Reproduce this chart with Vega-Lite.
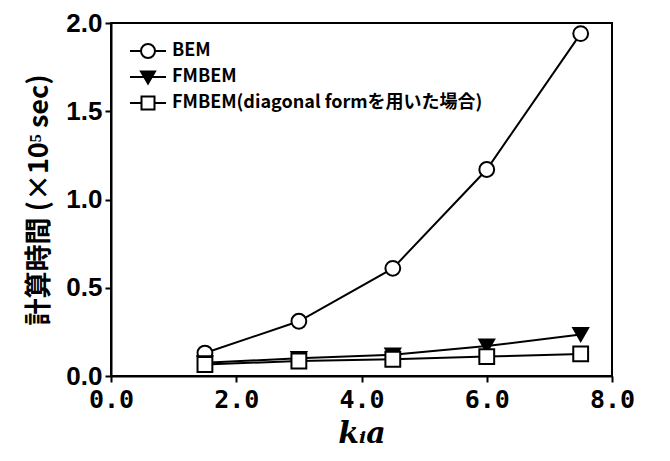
{
  "$schema": "https://vega.github.io/schema/vega-lite/v6.json",
  "width": 501,
  "height": 353,
  "autosize": {"type": "none"},
  "padding": {"left": 111, "top": 23, "right": 58, "bottom": 85},
  "background": "white",
  "config": {
    "view": {"stroke": "black", "strokeWidth": 2},
    "axis": {
      "domainColor": "black", "domainWidth": 2, "tickColor": "black", "tickWidth": 2,
      "tickSize": 6, "grid": false, "labelFont": "Liberation Sans", "labelFontWeight": "bold",
      "labelFontSize": 26, "labelColor": "black", "titleColor": "black", "labelFlush": false
    }
  },
  "data": {"values": [
    {"series": "BEM", "ka": 1.5, "t": 0.13},
    {"series": "BEM", "ka": 3.0, "t": 0.31},
    {"series": "BEM", "ka": 4.5, "t": 0.61},
    {"series": "BEM", "ka": 6.0, "t": 1.17},
    {"series": "BEM", "ka": 7.5, "t": 1.94},
    {"series": "FMBEM", "ka": 1.5, "t": 0.075},
    {"series": "FMBEM", "ka": 3.0, "t": 0.10},
    {"series": "FMBEM", "ka": 4.5, "t": 0.12},
    {"series": "FMBEM", "ka": 6.0, "t": 0.17},
    {"series": "FMBEM", "ka": 7.5, "t": 0.235},
    {"series": "FMBEM(diagonal formを用いた場合)", "ka": 1.5, "t": 0.065},
    {"series": "FMBEM(diagonal formを用いた場合)", "ka": 3.0, "t": 0.085},
    {"series": "FMBEM(diagonal formを用いた場合)", "ka": 4.5, "t": 0.095},
    {"series": "FMBEM(diagonal formを用いた場合)", "ka": 6.0, "t": 0.11},
    {"series": "FMBEM(diagonal formを用いた場合)", "ka": 7.5, "t": 0.125}
  ]},
  "encoding": {
    "x": {"field": "ka", "type": "quantitative", "scale": {"domain": [0, 8]},
      "axis": {"values": [0, 2, 4, 6, 8], "format": ".1f", "title": "kᵢa",
        "labelFont": "DejaVu Sans Mono", "labelFontSize": 25,
        "titleFont": "DejaVu Serif", "titleFontStyle": "italic", "titleFontWeight": "bold",
        "titleFontSize": 30, "titlePadding": 6, "labelPadding": 5}},
    "y": {"field": "t", "type": "quantitative", "scale": {"domain": [0, 2]},
      "axis": {"values": [0, 0.5, 1, 1.5, 2], "format": ".1f", "title": "計算時間 (×10⁵ sec)",
        "titleFont": "Noto Sans CJK JP", "titleFontWeight": "bold", "titleFontSize": 27,
        "titlePadding": 12, "labelPadding": 3}}
  },
  "layer": [
    {"mark": {"type": "line", "color": "black", "strokeWidth": 2},
     "encoding": {"detail": {"field": "series"}}},
    {"mark": {"type": "point", "stroke": "black", "strokeWidth": 2, "filled": false, "opacity": 1},
     "encoding": {
       "shape": {"field": "series", "type": "nominal",
         "scale": {"domain": ["BEM", "FMBEM", "FMBEM(diagonal formを用いた場合)"], "range": ["circle", "triangle-down", "square"]},
         "legend": null},
       "fill": {"field": "series", "type": "nominal",
         "scale": {"domain": ["BEM", "FMBEM", "FMBEM(diagonal formを用いた場合)"], "range": ["white", "black", "white"]},
         "legend": null},
       "size": {"value": 220}
     }},
    {"data": {"values": [
      {"key": "BEM"},
      {"key": "FMBEM"},
      {"key": "FMBEM(diagonal formを用いた場合)"}
    ]},
     "mark": {"type": "point", "stroke": "black", "strokeWidth": 2, "filled": false, "opacity": 1},
     "encoding": {
       "x": {"field": "ka", "type": "quantitative"},
       "y": {"field": "t", "type": "quantitative"},
       "shape": {"field": "key", "type": "nominal",
         "scale": {"domain": ["BEM", "FMBEM", "FMBEM(diagonal formを用いた場合)"],
           "range": ["M-1.8,0H-0.7M0.7,0H1.8M-0.7,0A0.7,0.7,0,1,1,0.7,0A0.7,0.7,0,1,1,-0.7,0Z", "M-1.8,0H1.8M-0.7,-0.55L0.7,-0.55L0,0.65Z", "M-1.8,0H-0.65M0.65,0H1.8M-0.65,-0.65H0.65V0.65H-0.65Z"]},
         "legend": {"orient": "none", "legendX": 26, "legendY": 17, "title": null,
           "labelFont": "Noto Sans CJK JP", "labelFontWeight": "bold", "labelFontSize": 18, "labelColor": "black",
           "labelLimit": 0, "symbolSize": 400, "symbolStrokeWidth": 2, "symbolStrokeColor": "black",
           "rowPadding": 4, "labelOffset": 13}},
       "fill": {"field": "key", "type": "nominal",
         "scale": {"domain": ["BEM", "FMBEM", "FMBEM(diagonal formを用いた場合)"], "range": ["white", "black", "white"]},
         "legend": null},
       "stroke": {"field": "key", "type": "nominal",
         "scale": {"domain": ["BEM", "FMBEM", "FMBEM(diagonal formを用いた場合)"], "range": ["black", "black", "black"]},
         "legend": null}
     }}
  ],
  "resolve": {"scale": {"shape": "independent", "fill": "independent", "stroke": "independent"},
              "legend": {"shape": "independent"}}
}
